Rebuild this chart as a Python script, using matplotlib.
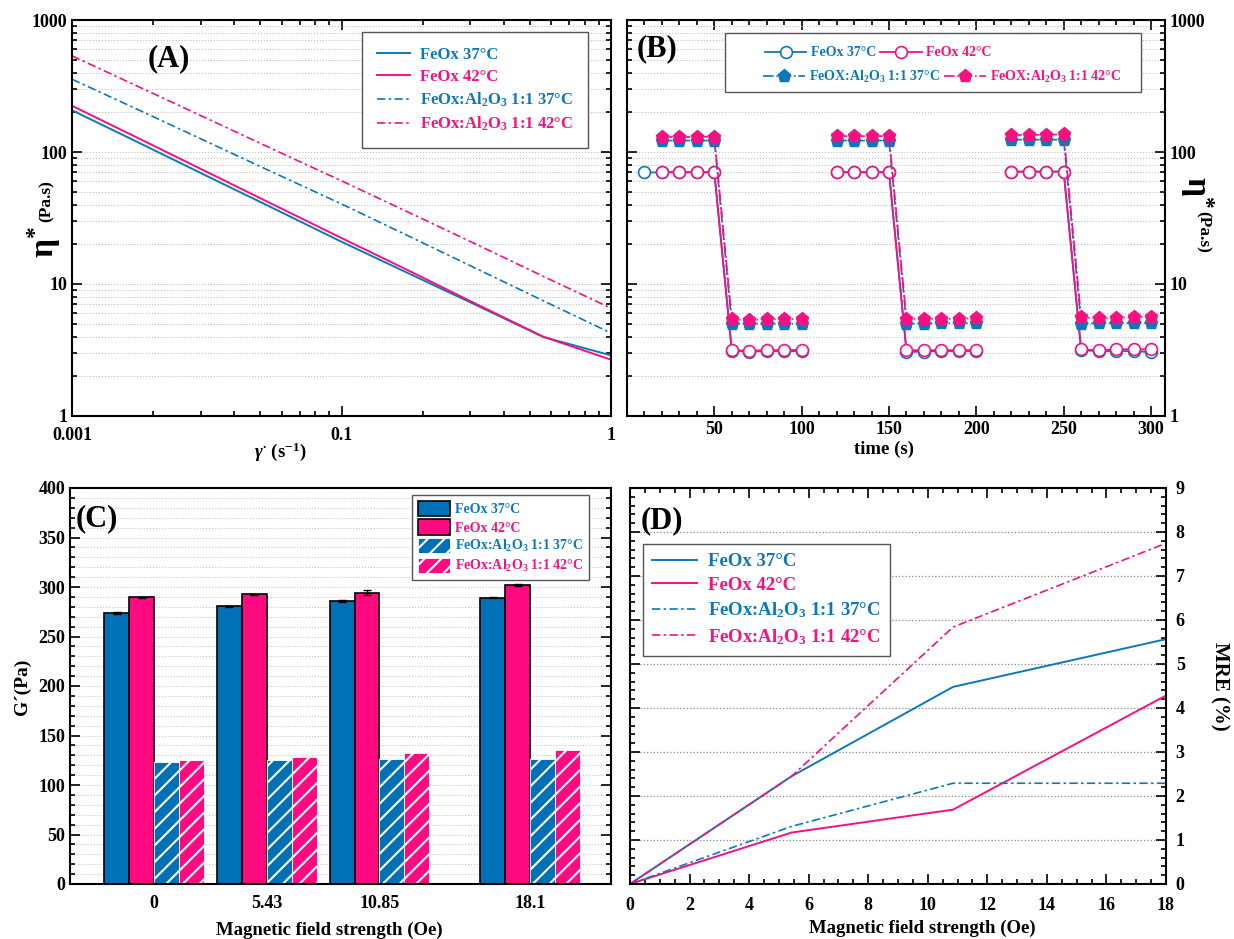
import numpy as np
import matplotlib
matplotlib.use('Agg')
import matplotlib.pyplot as plt
from matplotlib.patches import Rectangle
from matplotlib.ticker import LogLocator, MultipleLocator, FixedFormatter, FixedLocator, NullFormatter

plt.rcParams['font.family'] = ['Liberation Serif', 'DejaVu Serif']
plt.rcParams['font.weight'] = 'bold'
plt.rcParams['mathtext.fontset'] = 'custom'
plt.rcParams['mathtext.rm'] = 'Liberation Serif:bold'
plt.rcParams['mathtext.bf'] = 'Liberation Serif:bold'
plt.rcParams['mathtext.it'] = 'Liberation Serif:bold:italic'
plt.rcParams['hatch.color'] = 'white'
plt.rcParams['hatch.linewidth'] = 1.5
plt.rcParams['legend.framealpha'] = 1.0

BLUE = '#0b78be'
PINK = '#f7107f'
BAR_BLUE = '#0071b6'
BAR_PINK = '#ff0a80'

# ---- (A) complex viscosity vs shear rate ----
shear_rate = [0.01, 0.0178, 0.0316, 0.0562, 0.1, 0.178, 0.316, 0.562, 1.0]
eta_feox37 = [207, 117, 65.9, 37.2, 20.9, 12.0, 6.92, 3.96, 2.88]
eta_feox42 = [224, 126, 70.8, 39.7, 22.3, 12.6, 7.06, 3.98, 2.67]
eta_al37 = [356, 207, 120, 69.5, 40.4, 23.0, 13.1, 7.45, 4.25]
eta_al42 = [535, 310, 180, 104, 60.5, 34.8, 20.0, 11.4, 6.56]
rate_ticks = [0.01, 0.1, 1.0]
rate_labels = ['0.001', '0.1', '1']

# ---- (B) step test ----
nan = np.nan
time_s = [10, 20, 30, 40, 50, 60, 70, 80, 90, 100, 110, 120, 130, 140, 150,
          160, 170, 180, 190, 200, 210, 220, 230, 240, 250, 260, 270, 280, 290, 300]
step_feox37 = [70, 70, 70, 70, 70, 3.1, 3.08, 3.1, 3.1, 3.1, nan, 70, 70, 70, 70,
               3.05, 3.08, 3.1, 3.1, 3.1, nan, 71, 71, 71, 71, 3.15, 3.1, 3.1, 3.1, 3.05]
step_feox42 = [nan, 70.5, 70.5, 70.5, 70.5, 3.15, 3.12, 3.15, 3.15, 3.17, nan, 70.5, 70.5, 70.5, 70.5,
               3.15, 3.15, 3.15, 3.15, 3.15, nan, 71, 71, 71, 71, 3.2, 3.15, 3.2, 3.2, 3.2]
step_al37 = [nan, 122, 122, 122, 122, 5.0, 5.0, 5.0, 5.0, 5.0, nan, 122, 122, 122, 122,
             5.0, 5.0, 5.05, 5.05, 5.05, nan, 124, 124, 124, 124, 5.0, 5.05, 5.05, 5.05, 5.05]
step_al42 = [nan, 130, 130, 130, 131, 5.4, 5.3, 5.45, 5.4, 5.45, nan, 132, 132, 132, 132,
             5.45, 5.45, 5.45, 5.45, 5.5, nan, 134, 135, 135, 136, 5.6, 5.5, 5.55, 5.6, 5.65]

# ---- (C) storage modulus ----
field = [0, 5.43, 10.85, 18.1]
field_labels = ['0', '5.43', '10.85', '18.1']
g_feox37 = [273.5, 280.5, 286, 289]
g_feox42 = [289.5, 292.7, 294, 302]
g_al37 = [123.5, 125, 126.5, 126.5]
g_al42 = [124.8, 128, 132.5, 135]
err_feox37 = [0.8, 0.8, 0.8, 0.5]
err_feox42 = [0.5, 0.6, 2.5, 1.0]

# ---- (D) MRE ----
mre_feox37 = [0, 2.45, 4.48, 5.58]
mre_feox42 = [0, 1.17, 1.69, 4.32]
mre_al37 = [0, 1.31, 2.29, 2.29]
mre_al42 = [0, 2.45, 5.84, 7.77]

lab37 = 'FeOx 37°C'
lab42 = 'FeOx 42°C'
lab_al37 = r'FeOx:Al$_\mathbf{2}$O$_\mathbf{3}$ 1:1 37°C'
lab_al42 = r'FeOx:Al$_\mathbf{2}$O$_\mathbf{3}$ 1:1 42°C'
dashdot = (0, (5, 2, 1.5, 2))

W, H = 1234, 939
fig = plt.figure(figsize=(W / 100, H / 100), dpi=100)


def box(l, t, r, b):
    return [l / W, 1 - b / H, (r - l) / W, (b - t) / H]


def ftext(px, py, s, **kw):
    fig.text(px / W, 1 - py / H, s, ha='center', va='center', **kw)


def style(ax):
    for s in ax.spines.values():
        s.set_linewidth(1.5)
    ax.tick_params(which='both', direction='in', top=True, right=True, width=1.2, labelsize=13)
    ax.tick_params(which='major', length=7)
    ax.tick_params(which='minor', length=3.5)
    ax.set_axisbelow(True)


def color_legend(leg, colors):
    for t, c in zip(leg.get_texts(), colors):
        t.set_color(c)
    leg.get_frame().set_edgecolor('#555555')
    leg.get_frame().set_linewidth(1.0)


# ===== (A) =====
axA = fig.add_axes(box(72, 20, 611, 416))
style(axA)
axA.plot(shear_rate, eta_feox37, color=BLUE, lw=1.4, label=lab37)
axA.plot(shear_rate, eta_feox42, color=PINK, lw=1.4, label=lab42)
axA.plot(shear_rate, eta_al37, color=BLUE, lw=1.2, ls=dashdot, label=lab_al37)
axA.plot(shear_rate, eta_al42, color=PINK, lw=1.2, ls=dashdot, label=lab_al42)
axA.set_xscale('log')
axA.set_yscale('log')
axA.set_xlim(0.01, 1)
axA.set_ylim(1, 1000)
axA.xaxis.set_major_locator(FixedLocator(rate_ticks))
axA.xaxis.set_major_formatter(FixedFormatter(rate_labels))
axA.xaxis.set_minor_locator(LogLocator(subs=np.arange(2, 10)))
axA.xaxis.set_minor_formatter(NullFormatter())
axA.yaxis.set_minor_locator(LogLocator(subs=np.arange(2, 10), numticks=10))
axA.set_yticks([1, 10, 100, 1000], ['1', '10', '100', '1000'])
axA.tick_params(axis='x', pad=8)
axA.yaxis.grid(True, which='both', ls=':', color='#bdbdbd', lw=0.8)
legA = axA.legend(loc='upper right', bbox_to_anchor=(0.957, 0.97), fontsize=12,
                  fancybox=False, handlelength=2.0, handletextpad=0.6, borderpad=0.9,
                  labelspacing=0.35, borderaxespad=0)
color_legend(legA, [BLUE, PINK, BLUE, PINK])
axA.text(0.14, 0.94, '(A)', transform=axA.transAxes, fontsize=22, va='top', ha='left')
ftext(44, 242, r'$\mathrm{\eta}^{*}$', fontsize=24, rotation=90)
ftext(47, 201, '(Pa.s)', fontsize=12.5, rotation=90)
ftext(280, 452, r'$\gamma^{\bullet}$ (s$^{-1}$)', fontsize=13.5)

# ===== (B) =====
axB = fig.add_axes(box(627, 20, 1165, 416))
style(axB)
hb1, = axB.plot(time_s, step_feox37, color=BLUE, lw=1.3, marker='o', ms=8.5, mfc='white',
                mec=BLUE, mew=1.2, label=lab37)
hb2, = axB.plot(time_s, step_feox42, color=PINK, lw=1.3, marker='o', ms=8.5, mfc='white',
                mec=PINK, mew=1.2, label=lab42)
hb3, = axB.plot(time_s, step_al37, color=BLUE, lw=1.2, ls='-.', marker='p', ms=9.5,
                mfc=BLUE, mec=BLUE, label=r'FeOX:Al$_\mathbf{2}$O$_\mathbf{3}$ 1:1 37°C')
hb4, = axB.plot(time_s, step_al42, color=PINK, lw=1.2, ls='-.', marker='p', ms=9.5,
                mfc=PINK, mec=PINK, label=r'FeOX:Al$_\mathbf{2}$O$_\mathbf{3}$ 1:1 42°C')
axB.set_yscale('log')
axB.set_xlim(0, 308)
axB.set_ylim(1, 1000)
axB.set_xticks([50, 100, 150, 200, 250, 300])
axB.xaxis.set_minor_locator(MultipleLocator(10))
axB.yaxis.set_minor_locator(LogLocator(subs=np.arange(2, 10), numticks=10))
axB.set_yticks([1, 10, 100, 1000], ['1', '10', '100', '1000'])
axB.tick_params(labelleft=False, labelright=True)
axB.yaxis.grid(True, which='both', ls=':', color='#bdbdbd', lw=0.8)
# legend frame and two rows, as in the original
axB.add_patch(Rectangle((0.182, 0.818), 0.773, 0.149, transform=axB.transAxes,
                        facecolor='white', edgecolor='#555555', lw=1.0, zorder=4.5))
leg_kw = dict(ncol=2, fontsize=10, frameon=False, handlelength=3.0, borderpad=0,
              columnspacing=0.3, handletextpad=0.3, borderaxespad=0, loc='center left')
legB1 = axB.legend([hb1, hb2], [lab37, lab42], bbox_to_anchor=(0.256, 0.917), **leg_kw)
for t, c in zip(legB1.get_texts(), [BLUE, PINK]):
    t.set_color(c)
axB.add_artist(legB1)
legB2 = axB.legend([hb3, hb4], [hb3.get_label(), hb4.get_label()],
                   bbox_to_anchor=(0.253, 0.856), **leg_kw)
for t, c in zip(legB2.get_texts(), [BLUE, PINK]):
    t.set_color(c)
axB.text(0.018, 0.965, '(B)', transform=axB.transAxes, fontsize=22, va='top', ha='left')
ftext(1197, 192, r'$\mathrm{\eta}^{*}$', fontsize=24, rotation=270)
ftext(1203, 232, '(Pa.s)', fontsize=12.5, rotation=270)
ftext(884, 449, 'time (s)', fontsize=13.5)

# ===== (C) =====
axC = fig.add_axes(box(70, 488, 611, 884))
style(axC)
bw = 1.2
xc = np.array(field)
axC.bar(xc - 1.5 * bw, g_feox37, bw, color=BAR_BLUE, edgecolor='black', lw=1.2,
        yerr=err_feox37, capsize=3, error_kw=dict(lw=1, capthick=1), label=lab37)
axC.bar(xc - 0.5 * bw, g_feox42, bw, color=BAR_PINK, edgecolor='black', lw=1.2,
        yerr=err_feox42, capsize=3, error_kw=dict(lw=1, capthick=1), label=lab42)
axC.bar(xc + 0.5 * bw, g_al37, bw, color=BAR_BLUE, edgecolor='white', lw=0.6,
        hatch='//', label=lab_al37)
axC.bar(xc + 1.5 * bw, g_al42, bw, color=BAR_PINK, edgecolor='white', lw=0.6,
        hatch='//', label=lab_al42)
axC.set_xlim(-4.05, 22)
axC.set_ylim(0, 400)
axC.set_xticks(field, field_labels)
axC.yaxis.set_major_locator(MultipleLocator(50))
axC.yaxis.set_minor_locator(MultipleLocator(10))
axC.tick_params(axis='x', which='both', length=0, top=False, pad=8)
axC.yaxis.grid(True, which='both', ls=':', color='#c4c4c4', lw=0.8)
legC = axC.legend(loc='upper right', bbox_to_anchor=(0.959, 0.982), fontsize=10,
                  fancybox=False, handlelength=2.3, handleheight=1.3, borderpad=0.4,
                  labelspacing=0.25, handletextpad=0.4, borderaxespad=0)
color_legend(legC, [BLUE, PINK, BLUE, PINK])
axC.text(0.01, 0.96, '(C)', transform=axC.transAxes, fontsize=22, va='top', ha='left')
ftext(22, 687, 'G\u00b4(Pa)', fontsize=14, rotation=90)
ftext(329, 930, 'Magnetic field strength (Oe)', fontsize=13.5)

# ===== (D) =====
axD = fig.add_axes(box(630, 488, 1166, 884))
style(axD)
axD.plot(field, mre_feox37, color=BLUE, lw=1.4, label=lab37)
axD.plot(field, mre_feox42, color=PINK, lw=1.4, label=lab42)
axD.plot(field, mre_al37, color=BLUE, lw=1.2, ls=dashdot, label=lab_al37)
axD.plot(field, mre_al42, color=PINK, lw=1.2, ls=dashdot, label=lab_al42)
axD.set_xlim(0, 18)
axD.set_ylim(0, 9)
axD.xaxis.set_major_locator(MultipleLocator(2))
axD.xaxis.set_minor_locator(MultipleLocator(0.5))
axD.yaxis.set_major_locator(MultipleLocator(1))
axD.yaxis.set_minor_locator(MultipleLocator(0.2))
axD.tick_params(labelleft=False, labelright=True)
axD.tick_params(axis='x', pad=9)
axD.tick_params(axis='y', pad=7)
axD.yaxis.grid(True, which='major', ls=':', color='#888888', lw=0.9)
legD = axD.legend(loc='upper left', bbox_to_anchor=(0.024, 0.859), fontsize=13.5,
                  fancybox=False, handlelength=2.4, handletextpad=0.6, borderpad=0.5,
                  labelspacing=0.35, borderaxespad=0)
color_legend(legD, [BLUE, PINK, BLUE, PINK])
axD.text(0.019, 0.955, '(D)', transform=axD.transAxes, fontsize=22, va='top', ha='left')
ftext(1220, 686, 'MRE (%)', fontsize=15, rotation=270)
ftext(922, 928, 'Magnetic field strength (Oe)', fontsize=13.5)

fig.savefig('out.png', dpi=100)
